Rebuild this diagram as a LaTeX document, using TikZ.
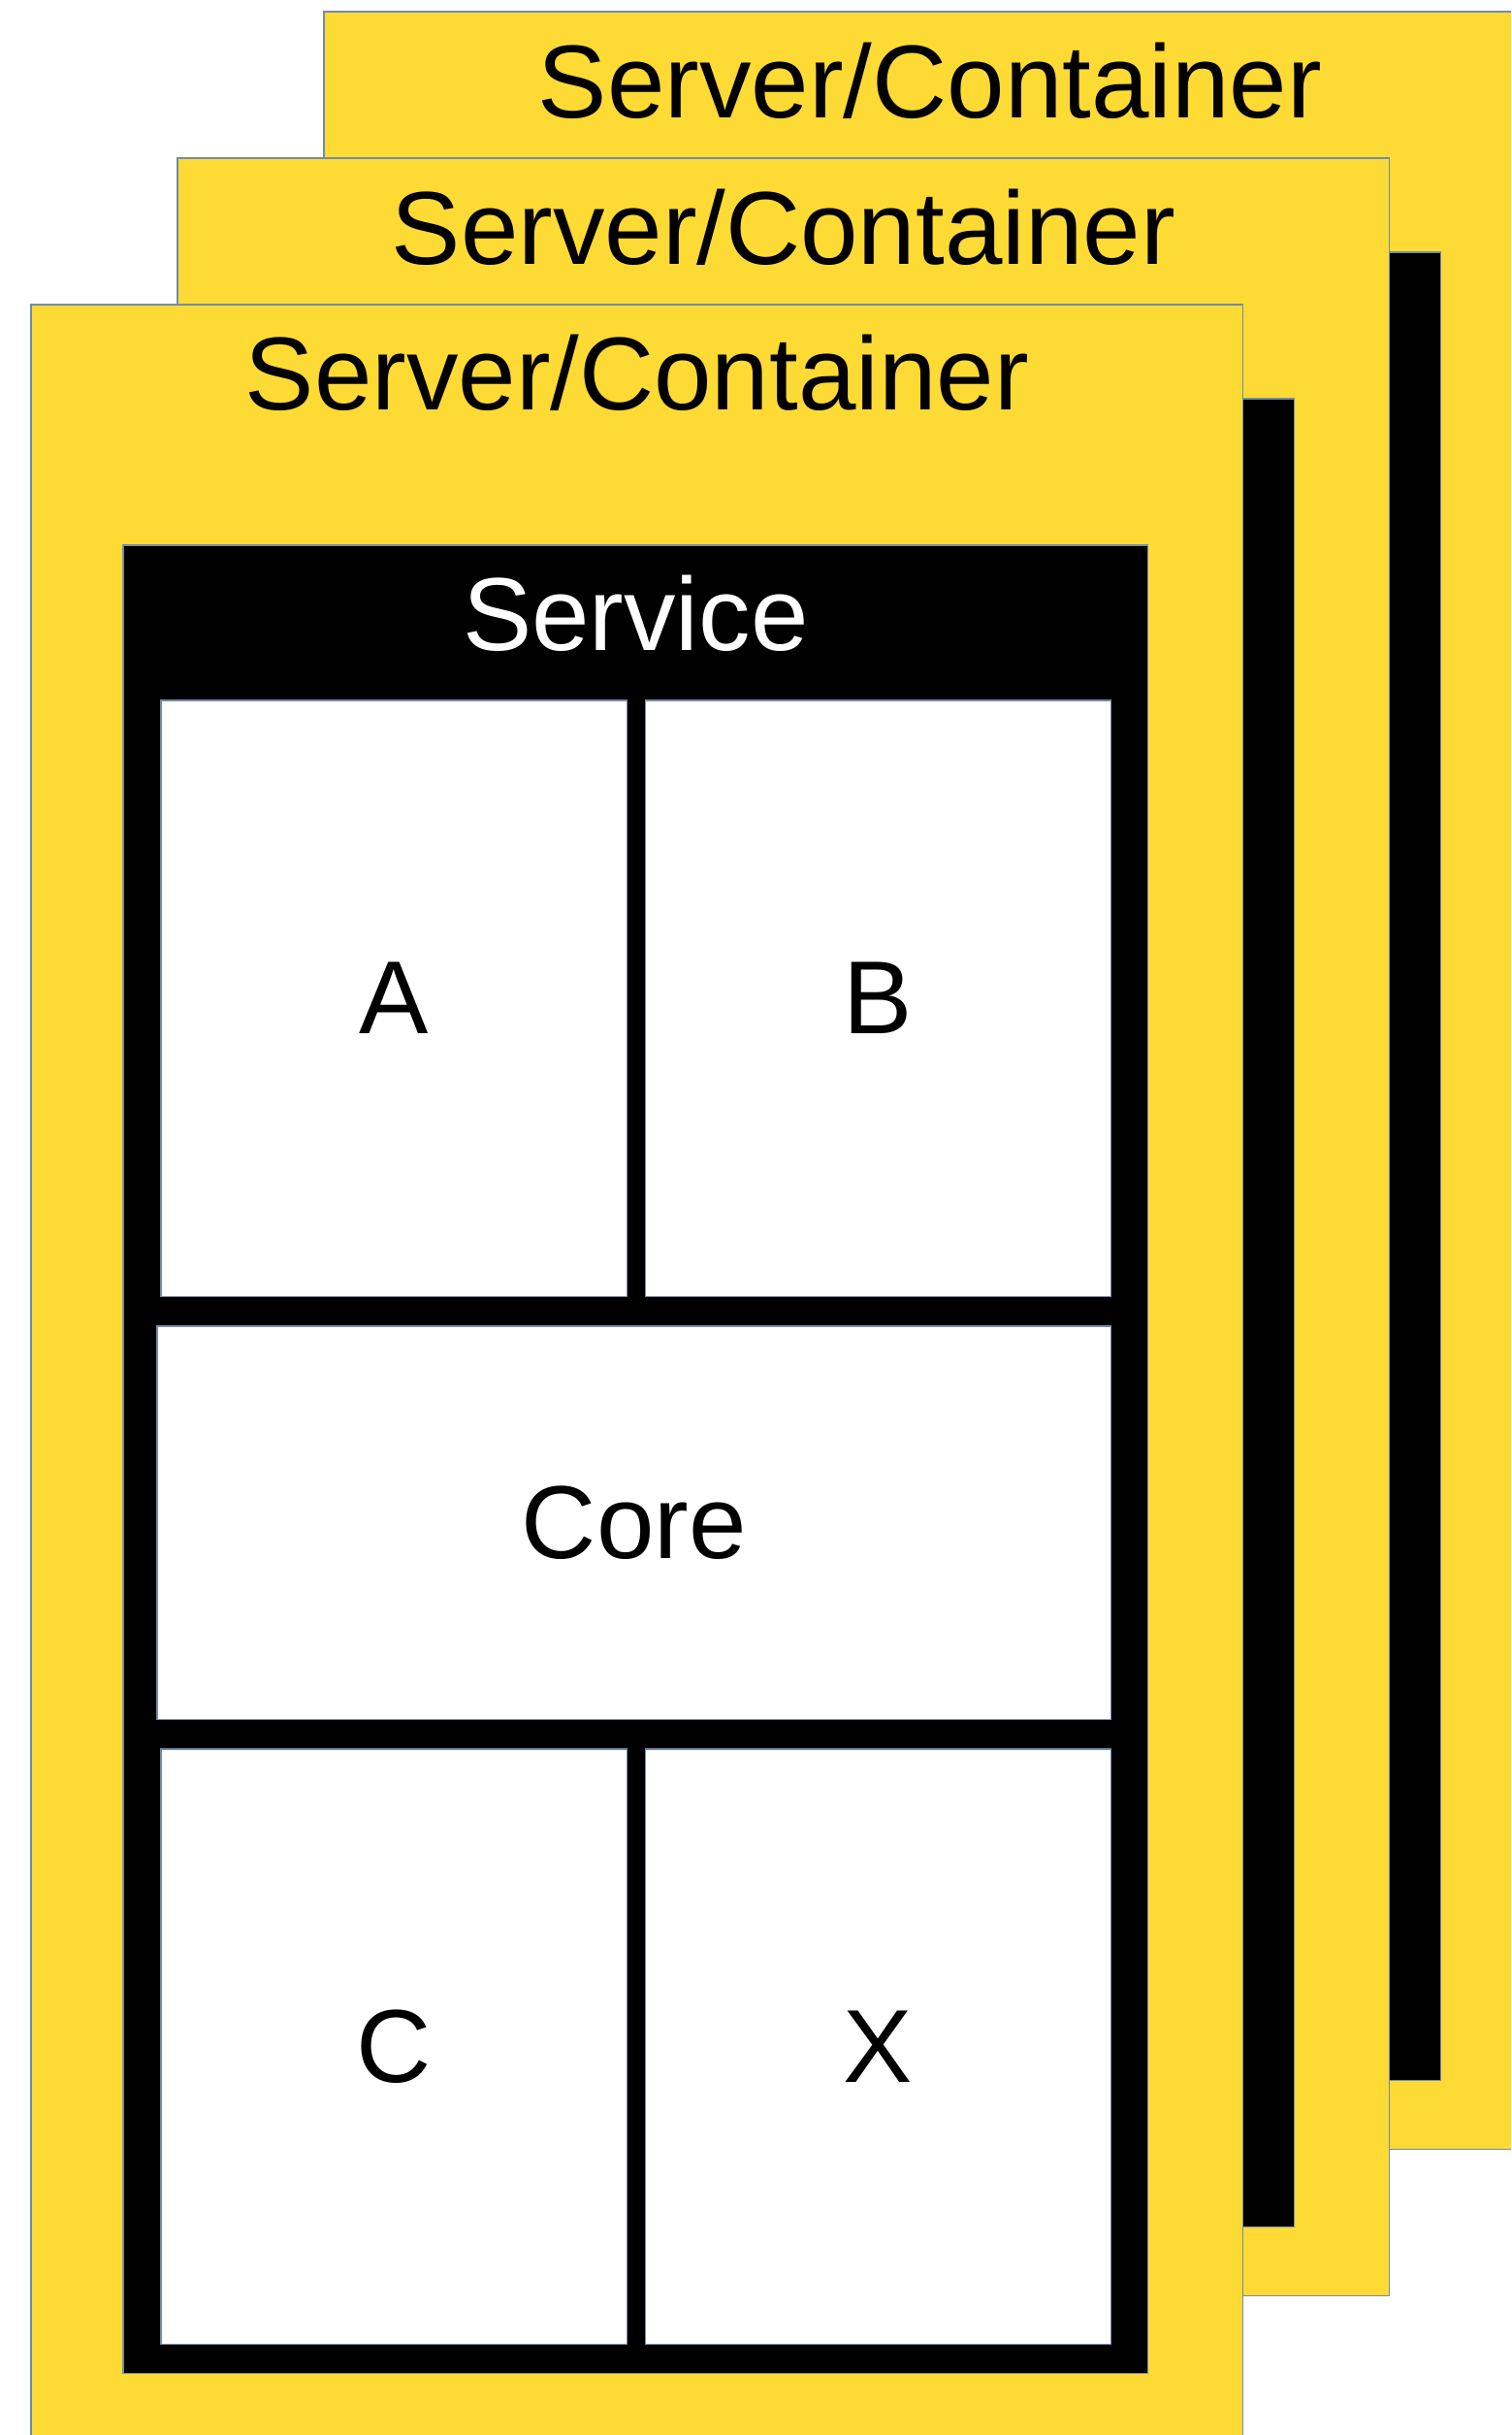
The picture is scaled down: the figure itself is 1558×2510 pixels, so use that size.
\documentclass[tikz,border=0pt]{standalone}
\usepackage{fontspec}
\setmainfont{Liberation Sans}
\usetikzlibrary{positioning}
\definecolor{boxyellow}{RGB}{254,218,52}
\definecolor{edgeblue}{RGB}{114,140,170}

\begin{document}
\begin{tikzpicture}[
    % one unit = one pixel, y runs downwards
    x=0.01cm, y=-0.01cm,
    node distance=0.2cm,
    % styles of the boxes
    container/.style={rectangle, draw=edgeblue, line width=0.3pt, fill=boxyellow, anchor=north west, inner sep=0pt, outer sep=0pt, minimum width=12.49cm, minimum height=22.02cm},
    service/.style={rectangle, draw=edgeblue, line width=0.3pt, fill=black, anchor=north west, inner sep=0pt, outer sep=0pt, minimum width=10.56cm, minimum height=18.83cm},
    part/.style={rectangle, draw=edgeblue, line width=0.3pt, fill=white, anchor=north west, inner sep=0pt, outer sep=0pt, minimum width=4.8cm, minimum height=6.14cm, font=\fontsize{30.4pt}{36pt}\selectfont},
    boxtitle/.style={inner sep=0pt, font=\fontsize{30.4pt}{36pt}\selectfont}
    ]

    \useasboundingbox (0,0) rectangle (1558,2510);
    \clip (0,0) rectangle (1558,2510);

    % back server
    \node (back) [container] at (334,12) {};
    \node (backTitle) [boxtitle] at ([yshift=-0.71cm]back.north) {Server/Container};
    \node (backService) [service] at (429,260) {};

    % middle server
    \node (middle) [container] at (183,163) {};
    \node (middleTitle) [boxtitle] at ([yshift=-0.71cm]middle.north) {Server/Container};
    \node (middleService) [service] at (278,411) {};

    % front server
    \node (front) [container] at (32,314) {};
    \node (frontTitle) [boxtitle] at ([yshift=-0.7cm]front.north) {Server/Container};
    \node (frontService) [service] at (127,562) {};
    \node (serviceTitle) [boxtitle, text=white] at ([yshift=-0.7cm]frontService.north) {Service};

    % parts of the service
    \node (partA) [part] at (166,722) {A};
    \node (partB) [part, right=0.19cm of partA.north east, anchor=north west] {B};
    \node (core) [part, minimum width=9.83cm, minimum height=4.05cm] at (162,1367) {Core};
    \node (partC) [part, minimum height=6.13cm] at (166,1803) {C};
    \node (partX) [part, minimum height=6.13cm, right=0.19cm of partC.north east, anchor=north west] {X};

\end{tikzpicture}
\end{document}
